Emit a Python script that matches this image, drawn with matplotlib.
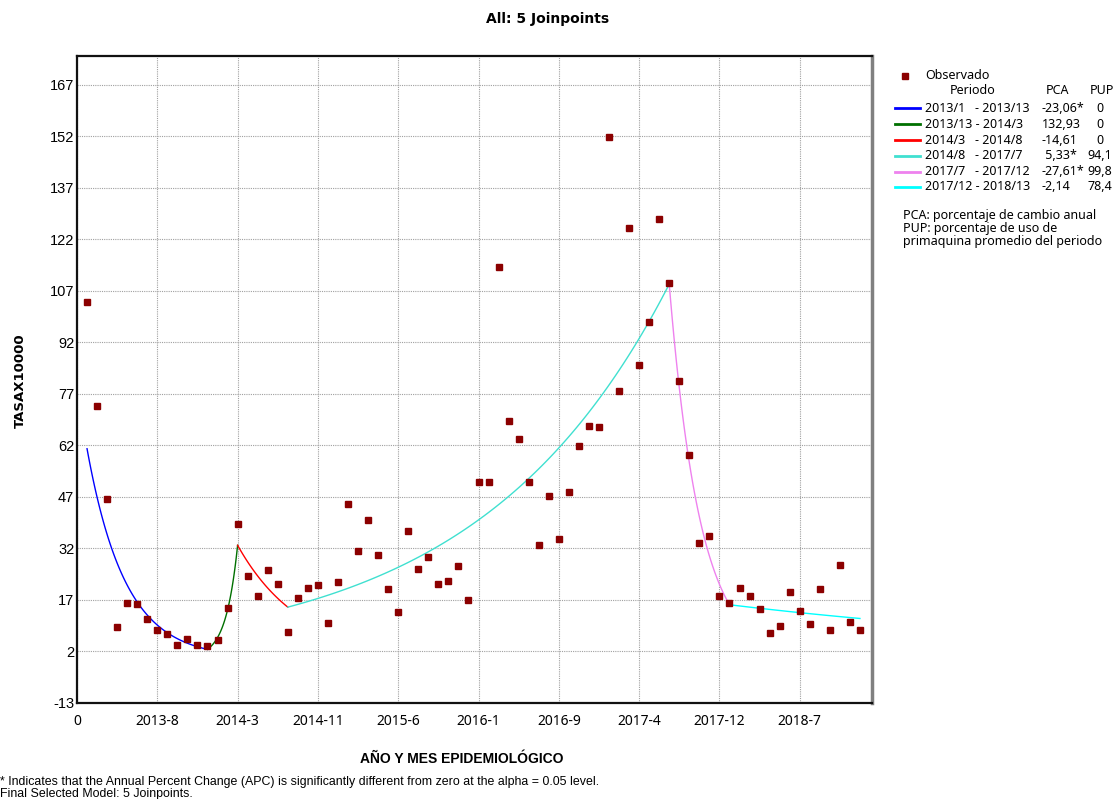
import numpy as np
import matplotlib
matplotlib.use("Agg")
import matplotlib.pyplot as plt
from matplotlib.lines import Line2D

# observed rate per 10000, epidemiological periods 1..78 (2013/1 .. 2018/13)
periods = list(range(1, 79))
observado = [
    103.6, 73.5, 46.3, 9.1, 16.2, 15.9, 11.5, 8.3, 7.0, 4.0,
    5.5, 4.0, 3.5, 5.2, 14.7, 39.0, 23.9, 18.0, 25.8, 21.7,
    7.6, 17.6, 20.4, 21.2, 10.4, 22.1, 45.0, 31.2, 40.2, 30.0,
    20.1, 13.6, 37.0, 26.0, 29.5, 21.6, 22.4, 26.8, 17.1, 51.4,
    51.4, 113.9, 69.0, 63.8, 51.4, 32.9, 47.1, 34.6, 48.4, 61.7,
    67.7, 67.3, 151.8, 77.9, 125.1, 85.4, 97.9, 127.9, 109.3, 80.8,
    59.1, 33.7, 35.7, 18.2, 16.2, 20.6, 18.1, 14.4, 7.5, 9.5,
    19.3, 13.7, 10.1, 20.1, 8.3, 27.1, 10.7, 8.3,
]

# joinpoint model: segment limits and fitted values at those limits
joinpoints = [1, 13, 16, 21, 59, 65, 78]
fitted_at_joinpoints = [61.0, 2.6, 32.9, 14.9, 108.9, 15.6, 11.6]
seg_colors = ["#0000ff", "#007000", "#ff0000", "#40e0d0", "#ee82ee", "#00ffff"]

seg_labels = ["2013/1   - 2013/13", "2013/13 - 2014/3", "2014/3   - 2014/8",
              "2014/8   - 2017/7", "2017/7   - 2017/12", "2017/12 - 2018/13"]
pca = ["-23,06*", "132,93", "-14,61", " 5,33*", "-27,61*", "-2,14"]
pup = ["0", "0", "0", "94,1", "99,8", "78,4"]

x_ticks = [0, 8, 16, 24, 32, 40, 48, 56, 64, 72]
x_tick_labels = ["0", "2013-8", "2014-3", "2014-11", "2015-6", "2016-1",
                 "2016-9", "2017-4", "2017-12", "2018-7"]
y_ticks = [-13, 2, 17, 32, 47, 62, 77, 92, 107, 122, 137, 152, 167]

W, H = 1116, 799
fig = plt.figure(figsize=(W / 100, H / 100), dpi=100)
ax = fig.add_axes([77 / W, 1 - 703 / H, (872 - 77) / W, (703 - 56) / H])


def px(x, y):
    # figure pixel -> figure fraction
    return x / W, 1 - y / H


arial = ["Liberation Sans", "DejaVu Sans"]
sans = ["Noto Sans", "DejaVu Sans"]

# fitted segments (log-linear between joinpoints)
for i in range(len(joinpoints) - 1):
    t0, t1 = joinpoints[i], joinpoints[i + 1]
    y0, y1 = fitted_at_joinpoints[i], fitted_at_joinpoints[i + 1]
    t = np.linspace(t0, t1, 100)
    ax.plot(t, y0 * (y1 / y0) ** ((t - t0) / (t1 - t0)), color=seg_colors[i], lw=1.0, zorder=2)

ax.plot(periods, observado, "s", color="#8b0000", ms=5, mec="#8b0000", zorder=3)

ax.set_xlim(0, 79.2)
ax.set_ylim(-13, 175.3)
ax.set_xticks(x_ticks)
ax.set_xticklabels(x_tick_labels, family=sans, fontsize=10)
ax.set_yticks(y_ticks)
ax.set_yticklabels([str(v) for v in y_ticks], family=arial, fontsize=10.5)
ax.tick_params(length=0, pad=2)
ax.tick_params(axis="x", pad=8)
ax.grid(True, color="#a0a0a0", ls=(0, (1, 1)), lw=0.8)
ax.set_axisbelow(True)
for s in ["left", "bottom", "top"]:
    ax.spines[s].set_color("#111111")
    ax.spines[s].set_linewidth(1.6)
ax.spines["right"].set_color("#808080")
ax.spines["right"].set_linewidth(2.5)

fig.text(*px(548, 19), "All: 5 Joinpoints", ha="center", va="center",
         fontsize=10, fontweight="bold", family=["DejaVu Sans"])
fig.text(*px(20, 381), "TASAX10000", rotation=90, ha="center", va="center",
         fontsize=9.5, fontweight="bold", family=["DejaVu Sans"])
fig.text(*px(462, 759), "AÑO Y MES EPIDEMIOLÓGICO", ha="center", va="center",
         fontsize=10, fontweight="bold", family=arial)
fig.text(*px(0, 782), "* Indicates that the Annual Percent Change (APC) is significantly "
         "different from zero at the alpha = 0.05 level.", ha="left", va="center",
         fontsize=8.9, family=arial)
fig.text(*px(0, 793.5), "Final Selected Model: 5 Joinpoints.", ha="left", va="center",
         fontsize=8.9, family=arial)

# legend drawn by hand to keep the column layout
lfs = 9
fig.add_artist(Line2D([905 / W], [1 - 75.5 / H], marker="s", color="#8b0000", ms=5,
                      transform=fig.transFigure))
fig.text(*px(925, 75.5), "Observado", va="center", fontsize=lfs, family=sans)
fig.text(*px(950, 91), "Periodo", va="center", fontsize=lfs, family=sans)
fig.text(*px(1046, 91), "PCA", va="center", fontsize=lfs, family=sans)
fig.text(*px(1090, 91), "PUP", va="center", fontsize=lfs, family=sans)
row_y = [108, 124, 140, 155.5, 171.5, 187]
for i, yy in enumerate(row_y):
    fig.add_artist(Line2D([895 / W, 920 / W], [1 - yy / H] * 2, color=seg_colors[i], lw=2,
                          transform=fig.transFigure))
    fig.text(*px(925, yy), seg_labels[i], va="center", fontsize=lfs, family=sans)
    fig.text(*px(1042, yy), pca[i], va="center", fontsize=lfs, family=sans)
    fig.text(*px(1100, yy), pup[i], va="center", ha="center", fontsize=lfs, family=sans)

notes = ["PCA: porcentaje de cambio anual", "PUP: porcentaje de uso de",
         "primaquina promedio del periodo"]
for i, line in enumerate(notes):
    fig.text(*px(903, 215 + 13.5 * i), line, va="center", fontsize=lfs, family=sans)

fig.savefig("out.png", dpi=100)
